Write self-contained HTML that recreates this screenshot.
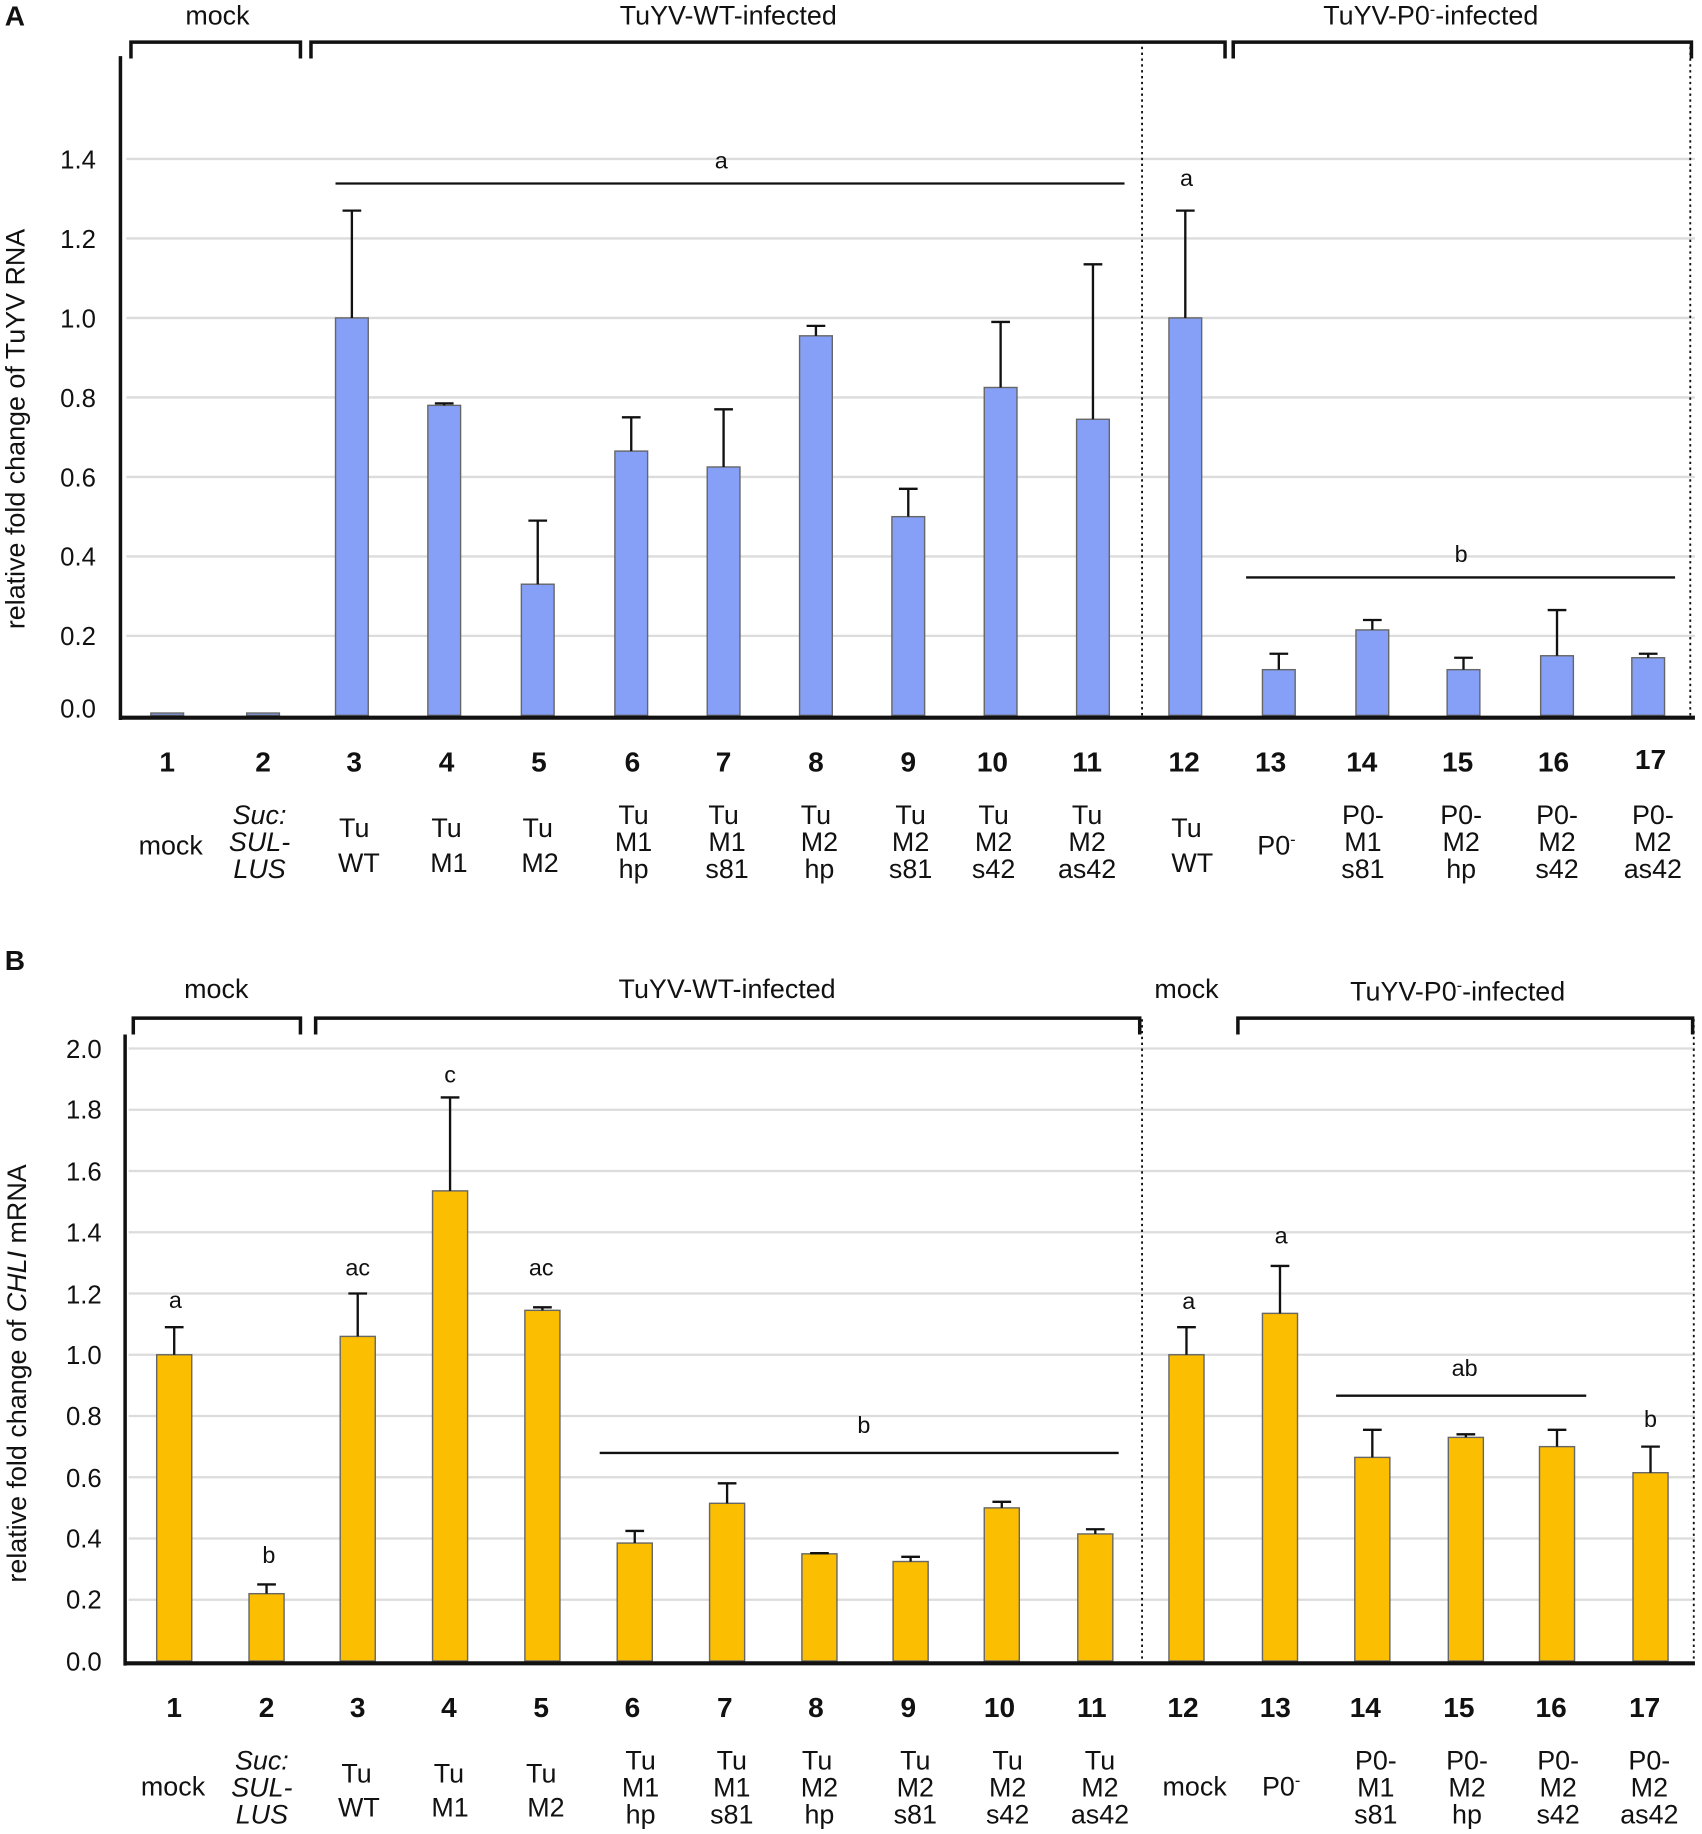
<!DOCTYPE html>
<html><head><meta charset="utf-8"><style>
html,body{margin:0;padding:0;background:#fff}
svg{display:block}
text{font-family:"Liberation Sans",Arial,sans-serif;fill:#111}
.n{font-size:24px;font-weight:bold;text-anchor:middle}
.l{font-size:23px;text-anchor:middle}
.t{font-size:22px;text-anchor:end}
.s{font-size:20px;text-anchor:middle}
.g{stroke:#dcdcdc;stroke-width:2}
.ba{fill:#86a0f8;stroke:#666;stroke-width:1.2}
.bb{fill:#fbbe00;stroke:#666;stroke-width:1.2}
.e{stroke:#111;stroke-width:2;fill:none}
.br{stroke:#111;stroke-width:3;fill:none}
.d{stroke:#111;stroke-width:1.6;stroke-dasharray:2,3}
</style></head><body>
<svg width="1702" height="1834" viewBox="0 0 1456 1569" xmlns="http://www.w3.org/2000/svg">
<!-- PANEL A -->
<text x="4" y="22" style="font-size:24px;font-weight:bold">A</text>
<text x="186" y="21" class="l">mock</text>
<text x="623" y="21" class="l">TuYV-WT-infected</text>
<text x="1224" y="21" class="l">TuYV-P0<tspan dy="-8" style="font-size:14px">-</tspan><tspan dy="8">-infected</tspan></text>
<path class="br" d="M112,50 V36 H257 V50 M266,50 V36 H1048 V50 M1055,50 V36 H1447 V50"/>
<g class="g">
<line x1="108" x2="1450" y1="544" y2="544"/><line x1="108" x2="1450" y1="476" y2="476"/><line x1="108" x2="1450" y1="408" y2="408"/><line x1="108" x2="1450" y1="340" y2="340"/><line x1="108" x2="1450" y1="272" y2="272"/><line x1="108" x2="1450" y1="204" y2="204"/><line x1="108" x2="1450" y1="136" y2="136"/>
</g>
<line class="d" x1="977" y1="40" x2="977" y2="612"/>
<line class="d" x1="1446" y1="40" x2="1446" y2="612"/>
<g class="t">
<text x="82" y="614">0.0</text><text x="82" y="552">0.2</text><text x="82" y="484">0.4</text><text x="82" y="416">0.6</text><text x="82" y="348">0.8</text><text x="82" y="280">1.0</text><text x="82" y="212">1.2</text><text x="82" y="144">1.4</text>
</g>
<text transform="translate(21,367) rotate(-90)" style="font-size:23px;text-anchor:middle">relative fold change of TuYV RNA</text>
<g class="ba">
<rect x="129" y="610" width="28" height="2"/><rect x="211" y="610" width="28" height="2"/>
<rect x="287" y="272" width="28" height="340"/>
<rect x="366" y="346.8" width="28" height="265.2"/>
<rect x="446" y="499.8" width="28" height="112.2"/>
<rect x="526" y="385.9" width="28" height="226.1"/>
<rect x="605" y="399.5" width="28" height="212.5"/>
<rect x="684" y="287.3" width="28" height="324.7"/>
<rect x="763" y="442" width="28" height="170"/>
<rect x="842" y="331.5" width="28" height="280.5"/>
<rect x="921" y="358.7" width="28" height="253.3"/>
<rect x="1000" y="272" width="28" height="340"/>
<rect x="1080" y="572.9" width="28" height="39.1"/>
<rect x="1160" y="538.9" width="28" height="73.1"/>
<rect x="1238" y="572.9" width="28" height="39.1"/>
<rect x="1318" y="561" width="28" height="51"/>
<rect x="1396" y="562.7" width="28" height="49.3"/>
</g>
<path class="e" d="M301,272V180.2M293,180.2H309 M380,346.8V345.1M372,345.1H388 M460,499.8V445.4M452,445.4H468 M540,385.9V357M532,357H548 M619,399.5V350.2M611,350.2H627 M698,287.3V278.8M690,278.8H706 M777,442V418.2M769,418.2H785 M856,331.5V275.4M848,275.4H864 M935,358.7V226.1M927,226.1H943 M1014,272V180.2M1006,180.2H1022 M1094,572.9V559.3M1086,559.3H1102 M1174,538.9V530.4M1166,530.4H1182 M1252,572.9V562.7M1244,562.7H1260 M1332,561V521.9M1324,521.9H1340 M1410,562.7V559.3M1402,559.3H1418"/>
<line x1="103" y1="48" x2="103" y2="616" stroke="#111" stroke-width="3"/>
<line x1="102" y1="614" x2="1450" y2="614" stroke="#111" stroke-width="3.5"/>
<line x1="287" y1="157" x2="962" y2="157" stroke="#111" stroke-width="2"/>
<text x="617" y="144" class="s">a</text>
<text x="1015" y="159" class="s">a</text>
<line x1="1066" y1="494" x2="1433" y2="494" stroke="#111" stroke-width="2"/>
<text x="1250" y="481" class="s">b</text>
<g class="n">
<text x="143" y="660">1</text><text x="225" y="660">2</text><text x="303" y="660">3</text><text x="382" y="660">4</text><text x="461" y="660">5</text><text x="541" y="660">6</text><text x="619" y="660">7</text><text x="698" y="660">8</text><text x="777" y="660">9</text><text x="849" y="660">10</text><text x="930" y="660">11</text><text x="1013" y="660">12</text><text x="1087" y="660">13</text><text x="1165" y="660">14</text><text x="1247" y="660">15</text><text x="1329" y="660">16</text><text x="1412" y="658">17</text>
</g>
<g class="l">
<text x="146" y="731">mock</text>
<text x="222" y="705" style="font-style:italic">Suc:</text><text x="222" y="728" style="font-style:italic">SUL-</text><text x="222" y="751" style="font-style:italic">LUS</text>
<text x="303" y="716">Tu</text><text x="307" y="746">WT</text>
<text x="382" y="716">Tu</text><text x="384" y="746">M1</text>
<text x="460" y="716">Tu</text><text x="462" y="746">M2</text>
<text x="542" y="705">Tu</text><text x="542" y="728">M1</text><text x="542" y="751">hp</text>
<text x="619" y="705">Tu</text><text x="622" y="728">M1</text><text x="622" y="751">s81</text>
<text x="698" y="705">Tu</text><text x="701" y="728">M2</text><text x="701" y="751">hp</text>
<text x="779" y="705">Tu</text><text x="779" y="728">M2</text><text x="779" y="751">s81</text>
<text x="850" y="705">Tu</text><text x="850" y="728">M2</text><text x="850" y="751">s42</text>
<text x="930" y="705">Tu</text><text x="930" y="728">M2</text><text x="930" y="751">as42</text>
<text x="1015" y="716">Tu</text><text x="1020" y="746">WT</text>
<text x="1092" y="731">P0<tspan dy="-8" style="font-size:14px">-</tspan></text>
<text x="1166" y="705">P0-</text><text x="1166" y="728">M1</text><text x="1166" y="751">s81</text>
<text x="1250" y="705">P0-</text><text x="1250" y="728">M2</text><text x="1250" y="751">hp</text>
<text x="1332" y="705">P0-</text><text x="1332" y="728">M2</text><text x="1332" y="751">s42</text>
<text x="1414" y="705">P0-</text><text x="1414" y="728">M2</text><text x="1414" y="751">as42</text>
</g>

<!-- PANEL B -->
<text x="4" y="830" style="font-size:24px;font-weight:bold">B</text>
<text x="185" y="854" class="l">mock</text>
<text x="622" y="854" class="l">TuYV-WT-infected</text>
<text x="1015" y="854" class="l">mock</text>
<text x="1247" y="856" class="l">TuYV-P0<tspan dy="-8" style="font-size:14px">-</tspan><tspan dy="8">-infected</tspan></text>
<path class="br" d="M114,885 V871 H257 V885 M270,885 V871 H975 V885 M1059,885 V871 H1448 V885"/>
<g class="g">
<line x1="110" x2="1450" y1="1368.6" y2="1368.6"/><line x1="110" x2="1450" y1="1316.2" y2="1316.2"/><line x1="110" x2="1450" y1="1263.8" y2="1263.8"/><line x1="110" x2="1450" y1="1211.4" y2="1211.4"/><line x1="110" x2="1450" y1="1159" y2="1159"/><line x1="110" x2="1450" y1="1106.6" y2="1106.6"/><line x1="110" x2="1450" y1="1054.2" y2="1054.2"/><line x1="110" x2="1450" y1="1001.8" y2="1001.8"/><line x1="110" x2="1450" y1="949.4" y2="949.4"/><line x1="110" x2="1450" y1="897" y2="897"/>
</g>
<line class="d" x1="977" y1="872" x2="977" y2="1421"/>
<line class="d" x1="1449" y1="872" x2="1449" y2="1421"/>
<g class="t">
<text x="87" y="1429">0.0</text><text x="87" y="1376">0.2</text><text x="87" y="1324">0.4</text><text x="87" y="1272">0.6</text><text x="87" y="1219">0.8</text><text x="87" y="1167">1.0</text><text x="87" y="1115">1.2</text><text x="87" y="1062">1.4</text><text x="87" y="1010">1.6</text><text x="87" y="957">1.8</text><text x="87" y="905">2.0</text>
</g>
<text transform="translate(22,1175) rotate(-90)" style="font-size:23px;text-anchor:middle">relative fold change of <tspan style="font-style:italic">CHLI</tspan> mRNA</text>
<g class="bb">
<rect x="134" y="1159" width="30" height="262"/>
<rect x="213" y="1363.4" width="30" height="57.6"/>
<rect x="291" y="1143.3" width="30" height="277.7"/>
<rect x="370" y="1018.8" width="30" height="402.2"/>
<rect x="449" y="1121" width="30" height="300"/>
<rect x="528" y="1320.1" width="30" height="100.9"/>
<rect x="607" y="1286.1" width="30" height="134.9"/>
<rect x="686" y="1329.3" width="30" height="91.7"/>
<rect x="764" y="1335.9" width="30" height="85.1"/>
<rect x="842" y="1290" width="30" height="131"/>
<rect x="922" y="1312.3" width="30" height="108.7"/>
<rect x="1000" y="1159" width="30" height="262"/>
<rect x="1080" y="1123.6" width="30" height="297.4"/>
<rect x="1159" y="1246.8" width="30" height="174.2"/>
<rect x="1239" y="1229.7" width="30" height="191.3"/>
<rect x="1317" y="1237.6" width="30" height="183.4"/>
<rect x="1397" y="1259.9" width="30" height="161.1"/>
</g>
<path class="e" d="M149,1159V1135.4M141,1135.4H157 M228,1363.4V1355.5M220,1355.5H236 M306,1143.3V1106.6M298,1106.6H314 M385,1018.8V938.9M377,938.9H393 M464,1121V1118.4M456,1118.4H472 M543,1320.1V1309.7M535,1309.7H551 M622,1286.1V1269M614,1269H630 M701,1329.3V1328.8M693,1328.8H709 M779,1335.9V1331.9M771,1331.9H787 M857,1290V1284.8M849,1284.8H865 M937,1312.3V1308.3M929,1308.3H945 M1015,1159V1135.4M1007,1135.4H1023 M1095,1123.6V1083M1087,1083H1103 M1174,1246.8V1223.2M1166,1223.2H1182 M1254,1229.7V1227.1M1246,1227.1H1262 M1332,1237.6V1223.2M1324,1223.2H1340 M1412,1259.9V1237.6M1404,1237.6H1420"/>
<line x1="107" y1="885" x2="107" y2="1425" stroke="#111" stroke-width="3"/>
<line x1="106" y1="1423" x2="1450" y2="1423" stroke="#111" stroke-width="3.5"/>
<g class="s">
<text x="150" y="1119">a</text><text x="230" y="1337">b</text><text x="306" y="1091">ac</text><text x="385" y="926">c</text><text x="463" y="1091">ac</text>
<text x="739" y="1226">b</text><text x="1017" y="1120">a</text><text x="1096" y="1064">a</text><text x="1253" y="1177">ab</text><text x="1412" y="1221">b</text>
</g>
<line x1="513" y1="1243" x2="957" y2="1243" stroke="#111" stroke-width="2"/>
<line x1="1143" y1="1194" x2="1357" y2="1194" stroke="#111" stroke-width="2"/>
<g class="n">
<text x="149" y="1469">1</text><text x="228" y="1469">2</text><text x="306" y="1469">3</text><text x="384" y="1469">4</text><text x="463" y="1469">5</text><text x="541" y="1469">6</text><text x="620" y="1469">7</text><text x="698" y="1469">8</text><text x="777" y="1469">9</text><text x="855" y="1469">10</text><text x="934" y="1469">11</text><text x="1012" y="1469">12</text><text x="1091" y="1469">13</text><text x="1168" y="1469">14</text><text x="1248" y="1469">15</text><text x="1327" y="1469">16</text><text x="1407" y="1469">17</text>
</g>
<g class="l">
<text x="148" y="1536">mock</text>
<text x="224" y="1514" style="font-style:italic">Suc:</text><text x="224" y="1537" style="font-style:italic">SUL-</text><text x="224" y="1560" style="font-style:italic">LUS</text>
<text x="305" y="1525">Tu</text><text x="307" y="1554">WT</text>
<text x="384" y="1525">Tu</text><text x="385" y="1554">M1</text>
<text x="463" y="1525">Tu</text><text x="467" y="1554">M2</text>
<text x="548" y="1514">Tu</text><text x="548" y="1537">M1</text><text x="548" y="1560">hp</text>
<text x="626" y="1514">Tu</text><text x="626" y="1537">M1</text><text x="626" y="1560">s81</text>
<text x="699" y="1514">Tu</text><text x="701" y="1537">M2</text><text x="701" y="1560">hp</text>
<text x="783" y="1514">Tu</text><text x="783" y="1537">M2</text><text x="783" y="1560">s81</text>
<text x="862" y="1514">Tu</text><text x="862" y="1537">M2</text><text x="862" y="1560">s42</text>
<text x="941" y="1514">Tu</text><text x="941" y="1537">M2</text><text x="941" y="1560">as42</text>
<text x="1022" y="1536">mock</text>
<text x="1096" y="1536">P0<tspan dy="-8" style="font-size:14px">-</tspan></text>
<text x="1177" y="1514">P0-</text><text x="1177" y="1537">M1</text><text x="1177" y="1560">s81</text>
<text x="1255" y="1514">P0-</text><text x="1255" y="1537">M2</text><text x="1255" y="1560">hp</text>
<text x="1333" y="1514">P0-</text><text x="1333" y="1537">M2</text><text x="1333" y="1560">s42</text>
<text x="1411" y="1514">P0-</text><text x="1411" y="1537">M2</text><text x="1411" y="1560">as42</text>
</g>
</svg>
</body></html>
